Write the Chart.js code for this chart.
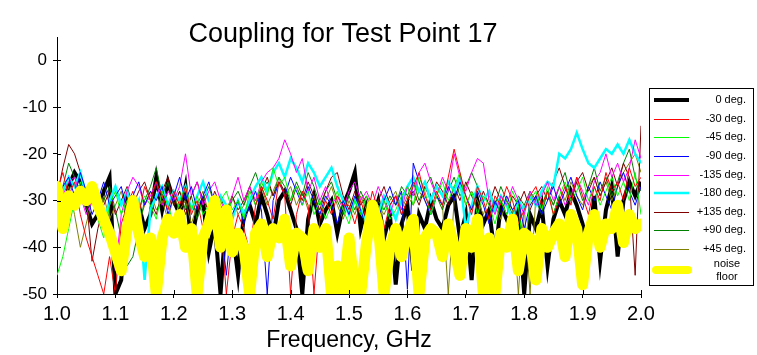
<!DOCTYPE html>
<html>
<head>
<meta charset="utf-8">
<script src="https://cdn.jsdelivr.net/npm/chart.js@4.4.1/dist/chart.umd.min.js"></script>
<style>
html,body{margin:0;padding:0;background:#fff;}
#wrap{position:relative;width:757px;height:355px;}
</style>
</head>
<body>
<div id="wrap"><canvas id="c" width="757" height="355"></canvas></div>
<script>
const chartTitle = "Coupling for Test Point 17";
const xAxisTitle = "Frequency, GHz";
const yTickValues = [0, -10, -20, -30, -40, -50];
const xTickValues = [1.0, 1.1, 1.2, 1.3, 1.4, 1.5, 1.6, 1.7, 1.8, 1.9, 2.0];

const freqs = [1.00,1.01,1.02,1.03,1.04,1.05,1.06,1.07,1.08,1.09,
1.10,1.11,1.12,1.13,1.14,1.15,1.16,1.17,1.18,1.19,
1.20,1.21,1.22,1.23,1.24,1.25,1.26,1.27,1.28,1.29,
1.30,1.31,1.32,1.33,1.34,1.35,1.36,1.37,1.38,1.39,
1.40,1.41,1.42,1.43,1.44,1.45,1.46,1.47,1.48,1.49,
1.50,1.51,1.52,1.53,1.54,1.55,1.56,1.57,1.58,1.59,
1.60,1.61,1.62,1.63,1.64,1.65,1.66,1.67,1.68,1.69,
1.70,1.71,1.72,1.73,1.74,1.75,1.76,1.77,1.78,1.79,
1.80,1.81,1.82,1.83,1.84,1.85,1.86,1.87,1.88,1.89,
1.90,1.91,1.92,1.93,1.94,1.95,1.96,1.97,1.98,1.99,2.00];

const seriesNames = ["0 deg.", "-30 deg.", "-45 deg.", "-90 deg.", "-135 deg.", "-180 deg.", "+135 deg.", "+90 deg.", "+45 deg.", "noise floor"];

const deg0 = [-30,-33,-27,-24,-26,-31,-35,-33,-28,-25,
-50,-47,-30,-34,-31,-36,-33,-25,-32,-26,
-30,-33,-27,-39,-32,-30,-41,-35,-50,-33,
-36,-46,-33,-31,-35,-29,-33,-38,-30,-28,
-32,-36,-50,-34,-29,-35,-32,-30,-37,-31,
-28,-24,-36,-31,-34,-30,-38,-33,-48,-35,
-31,-45,-33,-36,-30,-34,-36,-31,-29,-38,
-33,-47,-30,-35,-32,-42,-31,-34,-37,-32,
-50,-33,-36,-31,-44,-34,-30,-33,-28,-31,
-35,-41,-29,-43,-32,-27,-42,-30,-26,-29,-26];

const degM30 = [-28,-24,-29,-26,-33,-38,-42,-46,-50,-42,
-50,-35,-31,-28,-33,-27,-30,-26,-29,-32,
-28,-31,-27,-33,-30,-36,-32,-29,-34,-50,
-38,-33,-36,-41,-31,-27,-30,-34,-26,-29,
-50,-33,-28,-31,-50,-34,-30,-33,-29,-31,
-31,-35,-30,-34,-28,-32,-36,-31,-29,-33,
-30,-27,-24,-29,-32,-28,-31,-25,-19,-24,
-29,-33,-27,-30,-34,-29,-31,-27,-30,-35,
-32,-29,-27,-31,-28,-33,-30,-27,-31,-25,
-29,-33,-27,-30,-24,-28,-26,-30,-23,-27,-25];

const degM45 = [-46,-42,-36,-30,-26,-31,-29,-34,-38,-31,
-28,-33,-30,-36,-32,-29,-31,-34,-28,-31,
-35,-30,-27,-32,-29,-33,-31,-35,-30,-28,
-32,-30,-34,-28,-31,-26,-29,-23,-27,-25,
-30,-27,-31,-28,-33,-30,-34,-31,-28,-32,
-35,-30,-33,-29,-31,-36,-30,-34,-32,-29,
-27,-31,-25,-28,-33,-29,-26,-30,-27,-24,
-31,-28,-33,-29,-31,-35,-30,-33,-28,-31,
-42,-30,-28,-32,-27,-33,-29,-26,-30,-28,
-25,-30,-27,-31,-28,-25,-29,-26,-30,-24,-33];

const degM90 = [-31,-27,-25,-29,-24,-28,-33,-30,-26,-31,
-29,-27,-32,-29,-26,-31,-28,-30,-27,-33,
-29,-25,-30,-27,-32,-29,-26,-31,-34,-46,
-33,-30,-35,-31,-28,-32,-50,-30,-26,-29,
-25,-28,-31,-27,-30,-33,-29,-31,-35,-30,
-33,-29,-32,-36,-31,-34,-30,-27,-31,-28,
-49,-22,-26,-30,-33,-29,-31,-27,-30,-26,
-29,-32,-28,-31,-35,-30,-33,-29,-32,-30,
-36,-31,-29,-33,-30,-27,-31,-28,-25,-29,
-32,-27,-30,-26,-29,-32,-27,-24,-28,-31,-27];

const degM135 = [-33,-29,-26,-25,-29,-33,-30,-28,-32,-36,
-45,-33,-28,-25,-27,-31,-29,-26,-31,-28,
-30,-27,-20,-29,-26,-31,-28,-26,-30,-33,
-29,-25,-30,-27,-30,-26,-24,-23,-21,-17,
-20,-24,-21,-28,-25,-30,-27,-31,-29,-32,
-28,-26,-30,-28,-31,-27,-30,-33,-29,-32,
-27,-29,-24,-22,-26,-29,-25,-28,-20,-25,
-28,-24,-21,-22,-30,-33,-29,-31,-27,-30,
-33,-28,-31,-29,-26,-30,-27,-31,-29,-25,
-28,-31,-26,-24,-20,-25,-22,-26,-23,-17,-21];

const degM180 = [-32,-28,-25,-27,-24,-29,-27,-31,-35,-30,
-27,-31,-28,-33,-30,-47,-32,-29,-27,-31,
-28,-30,-27,-32,-29,-26,-30,-33,-29,-31,
-34,-30,-33,-30,-27,-25,-28,-24,-22,-25,
-21,-23,-26,-22,-24,-27,-25,-23,-27,-30,
-33,-30,-32,-35,-31,-33,-29,-31,-34,-30,
-27,-25,-28,-26,-30,-27,-29,-26,-28,-25,
-36,-31,-27,-30,-28,-32,-29,-31,-34,-30,
-32,-29,-31,-28,-26,-27,-20,-21,-19,-15.5,
-19,-22,-23,-21,-19,-20,-18,-20,-17,-20,-22];

const degP135 = [-29,-23,-18,-20,-24,-29,-43,-36,-31,-28,
-33,-30,-27,-31,-28,-26,-30,-33,-28,-25,
-31,-28,-33,-29,-26,-30,-32,-28,-31,-34,
-29,-32,-30,-27,-31,-28,-25,-29,-26,-28,
-31,-27,-30,-26,-29,-32,-28,-25,-24,-29,
-32,-28,-31,-29,-33,-30,-27,-31,-29,-33,
-30,-28,-31,-27,-30,-26,-28,-31,-27,-30,
-26,-29,-32,-28,-31,-27,-30,-33,-29,-31,
-28,-32,-29,-27,-30,-26,-23,-27,-30,-26,
-24,-28,-25,-29,-26,-23,-27,-22,-25,-46,-14];

const degP90 = [-34,-27,-22,-25,-28,-32,-29,-33,-30,-27,
-32,-38,-44,-42,-36,-30,-27,-23,-29,-26,
-31,-28,-32,-29,-34,-30,-27,-31,-29,-33,
-30,-28,-31,-27,-24,-28,-26,-29,-25,-27,
-30,-26,-29,-24,-27,-31,-28,-26,-30,-33,
-29,-32,-28,-31,-34,-30,-32,-29,-31,-27,
-29,-26,-30,-27,-25,-29,-32,-28,-25,-29,
-27,-24,-27,-30,-28,-31,-27,-30,-33,-29,
-31,-28,-30,-33,-28,-31,-27,-24,-29,-26,
-30,-27,-23,-28,-25,-29,-26,-22,-19,-25,-28];

const degP45 = [-36,-31,-27,-33,-40,-35,-30,-33,-29,-34,
-31,-28,-33,-30,-35,-31,-28,-32,-30,-34,
-29,-32,-30,-35,-31,-28,-33,-30,-36,-32,
-29,-33,-31,-28,-30,-27,-31,-28,-25,-29,
-27,-31,-28,-32,-29,-33,-30,-27,-31,-34,
-30,-33,-29,-32,-35,-31,-33,-30,-28,-32,
-29,-31,-28,-30,-33,-29,-31,-50,-30,-27,
-31,-28,-30,-33,-29,-31,-34,-30,-32,-50,
-31,-50,-29,-32,-28,-31,-27,-30,-26,-29,
-31,-27,-25,-29,-26,-30,-27,-24,-22,-20,-24];

const noiseFloor = [-27,-36,-29,-31,-28,-30,-27,-31,-34,-37,
-41,-45,-36,-30,-37,-42,-38,-50,-38,-34,
-37,-33,-40,-36,-50,-38,-35,-30,-40,-32,
-41,-37,-40,-50,-37,-35,-42,-36,-38,-34,
-44,-37,-38,-45,-36,-40,-36,-50,-44,-50,
-38,-50,-50,-39,-31,-35,-50,-40,-36,-42,
-37,-34,-50,-38,-36,-37,-42,-35,-40,-46,
-36,-40,-34,-50,-38,-50,-37,-40,-34,-45,
-37,-38,-47,-36,-40,-37,-35,-42,-33,-36,
-48,-37,-33,-40,-35,-36,-31,-39,-33,-36,-35];

const seriesValues = [deg0, degM30, degM45, degM90, degM135, degM180, degP135, degP90, degP45, noiseFloor];
const seriesColors = ["#000000", "#ff0000", "#00ff00", "#0000ff", "#ff00ff", "#00ffff", "#800000", "#008000", "#808000", "#ffff00"];
const seriesWidths = [4, 1, 1, 1, 1, 2.5, 1, 1, 1, 11];
const seriesOrder = [10, 2, 3, 4, 5, 6, 7, 8, 9, 0];

const datasets = seriesNames.map((name, k) => ({
  label: name,
  data: freqs.map((f, i) => ({x: f, y: seriesValues[k][i]})),
  borderColor: seriesColors[k],
  backgroundColor: seriesColors[k],
  borderWidth: seriesWidths[k],
  pointRadius: 0,
  tension: 0,
  fill: false,
  order: seriesOrder[k],
  borderCapStyle: k === 9 ? 'round' : 'butt',
  borderJoinStyle: k === 9 ? 'round' : 'miter',
  clip: {left: 0, right: 0, top: 0, bottom: 0}
}));

const FONT = "'Liberation Sans', Arial, sans-serif";

const extras = {
  id: 'extras',
  afterDraw(chart) {
    const ctx = chart.ctx;
    const xs = chart.scales.x, ys = chart.scales.y;
    ctx.save();
    ctx.strokeStyle = '#000'; ctx.lineWidth = 1;
    ctx.beginPath();
    yTickValues.forEach(v => {
      const p = Math.round(ys.getPixelForValue(v)) + 0.5;
      ctx.moveTo(xs.left, p); ctx.lineTo(xs.left + 4, p);
    });
    xTickValues.forEach(v => {
      const p = Math.round(xs.getPixelForValue(v)) + 0.5;
      ctx.moveTo(p, ys.bottom); ctx.lineTo(p, ys.bottom - 4);
    });
    ctx.stroke();
    ctx.fillStyle = '#000';
    ctx.font = "27px " + FONT;
    ctx.textAlign = 'center';
    ctx.textBaseline = 'alphabetic';
    ctx.fillText(chartTitle, 343, 42);
    const lx = 649, ly = 88, lw = 104, lh = 197;
    ctx.lineWidth = 1;
    ctx.strokeRect(lx + 0.5, ly + 0.5, lw, lh);
    ctx.font = "11px " + FONT;
    ctx.textAlign = 'right';
    ctx.textBaseline = 'middle';
    const rows = [100, 119, 137, 156, 175, 193, 212, 230, 249, 270];
    seriesNames.forEach((name, k) => {
      const y = rows[k];
      ctx.strokeStyle = seriesColors[k];
      ctx.lineWidth = k === 9 ? 8 : seriesWidths[k];
      ctx.lineCap = k === 9 ? 'round' : 'butt';
      ctx.beginPath();
      if (k === 9) { ctx.moveTo(656, y); ctx.lineTo(688, y); }
      else if (seriesWidths[k] === 1) { ctx.moveTo(654, y + 0.5); ctx.lineTo(689, y + 0.5); }
      else { ctx.moveTo(654, y); ctx.lineTo(689, y); }
      ctx.stroke();
      ctx.fillStyle = '#000';
      if (k === 9) {
        ctx.textAlign = 'center';
        ctx.fillText('noise', 727, y - 6);
        ctx.fillText('floor', 727, y + 7);
        ctx.textAlign = 'right';
      } else {
        ctx.fillText(name, 746, y);
      }
    });
    ctx.restore();
  }
};

new Chart(document.getElementById('c'), {
  type: 'line',
  data: { datasets },
  options: {
    responsive: false,
    animation: false,
    devicePixelRatio: 1,
    layout: { padding: { left: 0, right: 116, top: 37, bottom: 0 } },
    plugins: { legend: { display: false }, title: { display: false }, tooltip: { enabled: false } },
    scales: {
      x: {
        type: 'linear', min: 1.0, max: 2.0,
        afterFit(s) { s.height = 61; },
        afterBuildTicks(s) { s.ticks = xTickValues.map(v => ({value: v})); },
        ticks: { color: '#000', font: { family: FONT, size: 20 }, padding: 4, maxRotation: 0,
          callback: v => Number(v).toFixed(1) },
        grid: { display: true, drawOnChartArea: false, drawTicks: true, tickLength: 4, color: '#000' },
        border: { display: true, color: '#000', width: 1 },
        title: { display: true, text: xAxisTitle, color: '#000', font: { family: FONT, size: 23 }, padding: { top: 0, bottom: 1 } }
      },
      y: {
        type: 'linear', min: -50, max: 5,
        afterFit(s) { s.width = 57; },
        afterBuildTicks(s) { s.ticks = yTickValues.map(v => ({value: v})); },
        ticks: { color: '#000', font: { family: FONT, size: 17 }, padding: 6 },
        grid: { display: true, drawOnChartArea: false, drawTicks: true, tickLength: 4, color: '#000' },
        border: { display: true, color: '#000', width: 1 }
      }
    }
  },
  plugins: [extras]
});
</script>
</body>
</html>
